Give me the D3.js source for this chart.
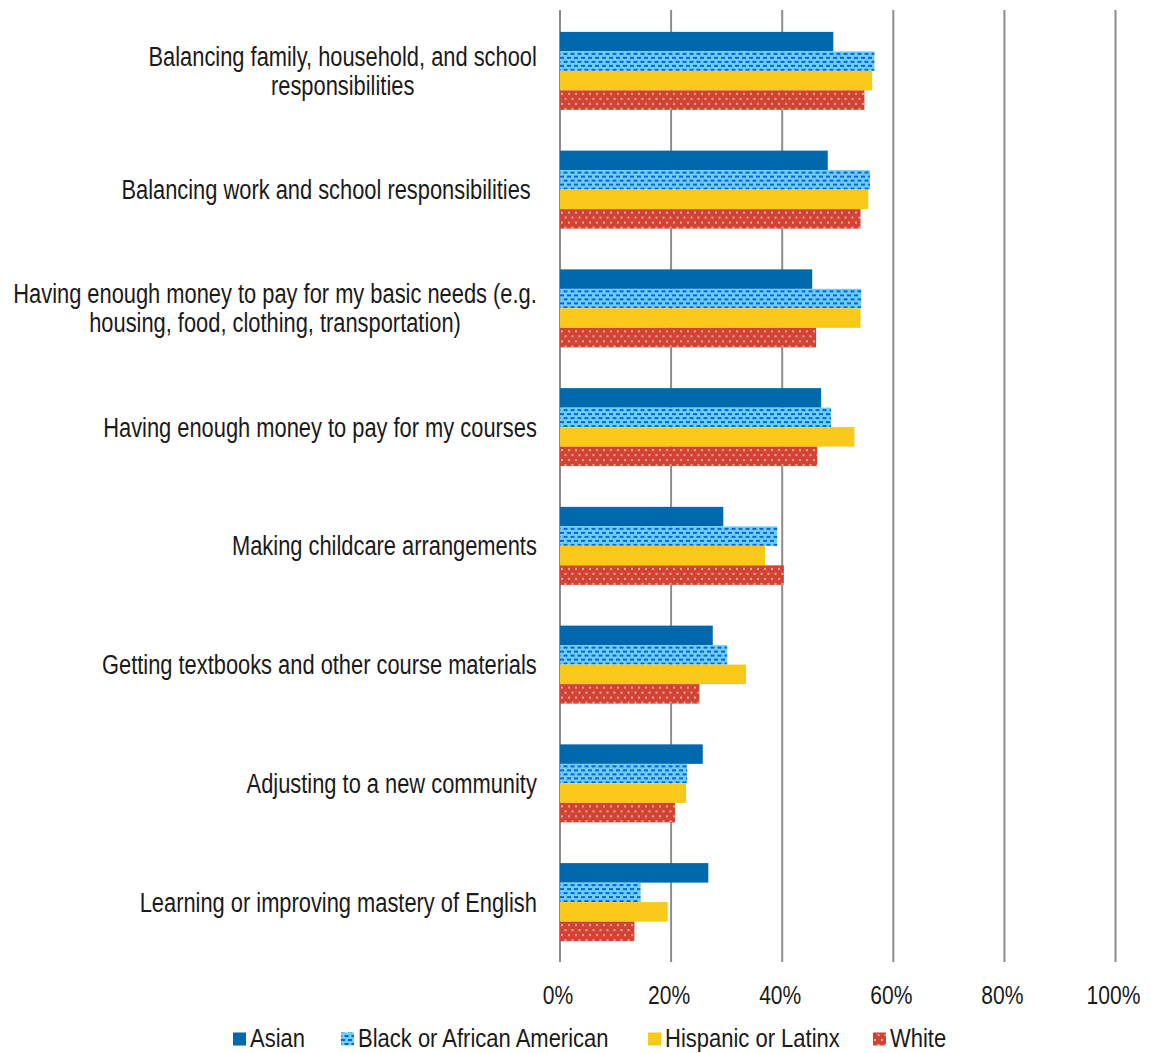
<!DOCTYPE html>
<html>
<head>
<meta charset="utf-8">
<script src="https://cdn.jsdelivr.net/npm/d3@7"></script>
<style>
  html, body { margin: 0; padding: 0; background: #fff; }
  svg text { font-family: "Liberation Sans", Arial, sans-serif; fill: #1a1a1a; }
</style>
</head>
<body>
<svg id="chart" width="1151" height="1053"></svg>
<script>
// Challenges reported by students, share of each group (%)
const categories = [
  ["Balancing family, household, and school", "responsibilities"],
  ["Balancing work and school responsibilities "],
  ["Having enough money to pay for my basic needs (e.g.", "housing, food, clothing, transportation)"],
  ["Having enough money to pay for my courses"],
  ["Making childcare arrangements"],
  ["Getting textbooks and other course materials"],
  ["Adjusting to a new community"],
  ["Learning or improving mastery of English"]
];
const seriesNames = ["Asian", "Black or African American", "Hispanic or Latinx", "White"];
const asian    = [49.2, 48.2, 45.4, 47.0, 29.4, 27.5, 25.7, 26.7];
const black    = [56.6, 55.8, 54.2, 48.8, 39.1, 30.1, 22.9, 14.5];
const hispanic = [56.2, 55.5, 54.1, 53.0, 36.9, 33.5, 22.7, 19.4];
const white    = [54.8, 54.1, 46.1, 46.3, 40.3, 25.1, 20.7, 13.4];
const xTicks = [0, 20, 40, 60, 80, 100];

const seriesValues = [asian, black, hispanic, white];
const fills = ["#0068ac", "url(#patBlack)", "#f8c91a", "url(#patWhite)"];
const swatchFills = ["#0068ac", "url(#patBlackSw)", "#f8c91a", "url(#patWhiteSw)"];

// horizontal squeeze giving a narrow sans look
const NARROW = 0.81;
const NARROW_LEGEND = 0.83;

const svg = d3.select("#chart");
const defs = svg.append("defs");

// light blue with dark-blue dashes
function dashPattern(id) {
  const p = defs.append("pattern").attr("id", id).attr("patternUnits", "userSpaceOnUse")
    .attr("width", 7).attr("height", 8);
  p.append("rect").attr("width", 7).attr("height", 8).attr("fill", "#6ccff0");
  p.append("rect").attr("x", 0).attr("y", 1).attr("width", 4).attr("height", 2).attr("fill", "#0862e0");
  p.append("rect").attr("x", 3.5).attr("y", 5).attr("width", 4).attr("height", 2).attr("fill", "#0862e0");
  p.append("rect").attr("x", -3.5).attr("y", 5).attr("width", 4).attr("height", 2).attr("fill", "#0862e0");
}
// red with pink dots
function dotPattern(id) {
  const p = defs.append("pattern").attr("id", id).attr("patternUnits", "userSpaceOnUse")
    .attr("width", 7).attr("height", 10);
  p.append("rect").attr("width", 7).attr("height", 10).attr("fill", "#d14434");
  p.append("rect").attr("x", 1).attr("y", 1).attr("width", 2).attr("height", 2).attr("fill", "#f5a3a0");
  p.append("rect").attr("x", 4.5).attr("y", 6).attr("width", 2).attr("height", 2).attr("fill", "#f5a3a0");
}
dashPattern("patBlack"); dotPattern("patWhite");
dashPattern("patBlackSw"); dotPattern("patWhiteSw");

const x = d3.scaleLinear().domain([0, 100]).range([560, 1115.5]);
const y0 = d3.scaleBand().domain(d3.range(categories.length)).range([11.5, 961.5])
  .paddingInner(0.343).paddingOuter(0.1715);
const y1 = d3.scaleBand().domain(d3.range(seriesNames.length)).range([0, y0.bandwidth()]);

// vertical gridlines
svg.append("g").selectAll("line").data(xTicks).join("line")
  .attr("x1", d => x(d)).attr("x2", d => x(d))
  .attr("y1", 10).attr("y2", 962)
  .attr("stroke", "#8c8c8c").attr("stroke-width", 2);

// bars
const groups = svg.append("g").selectAll("g").data(categories).join("g")
  .attr("transform", (d, i) => `translate(0,${y0(i)})`);
groups.each(function(_, ci) {
  d3.select(this).selectAll("rect").data(seriesNames).join("rect")
    .attr("x", x(0))
    .attr("y", (d, si) => y1(si))
    .attr("width", (d, si) => x(seriesValues[si][ci]) - x(0))
    .attr("height", y1.bandwidth())
    .attr("fill", (d, si) => fills[si]);
});

// category labels: centred lines, block right-aligned to the axis
const lineH = 29;
const labelG = svg.append("g").selectAll("g").data(categories).join("g");
labelG.each(function(lines, i) {
  const g = d3.select(this);
  const cy = y0(i) + y0.bandwidth() / 2;
  const t = g.append("text").attr("font-size", 27).attr("text-anchor", "middle")
    .style("white-space", "pre");
  lines.forEach((ln, k) => {
    t.append("tspan").attr("x", 0)
      .attr("y", (k - (lines.length - 1) / 2) * lineH)
      .attr("dy", "0.35em").text(ln);
  });
  const w = d3.max(t.selectAll("tspan").nodes(), n => n.getComputedTextLength()) * NARROW;
  g.attr("transform", `translate(${537 - w / 2},${cy}) scale(${NARROW},1)`);
});

// x-axis tick labels
svg.append("g").selectAll("text").data(xTicks).join("text")
  .attr("transform", d => `translate(${x(d) - 2},995) scale(${NARROW},1)`)
  .attr("dy", "0.35em")
  .attr("text-anchor", "middle").attr("font-size", 26)
  .text(d => d + "%");

// legend
const legendX = [233, 341, 648, 873];
const leg = svg.append("g").selectAll("g").data(seriesNames).join("g")
  .attr("transform", (d, i) => `translate(${legendX[i]},1038)`);
leg.append("rect").attr("x", 0).attr("y", -5.5).attr("width", 13).attr("height", 13)
  .attr("fill", (d, i) => swatchFills[i]);
leg.append("text").attr("transform", `translate(17,0) scale(${NARROW_LEGEND},1)`)
  .attr("dy", "0.35em")
  .attr("font-size", 26.5).text(d => d);
</script>
</body>
</html>
